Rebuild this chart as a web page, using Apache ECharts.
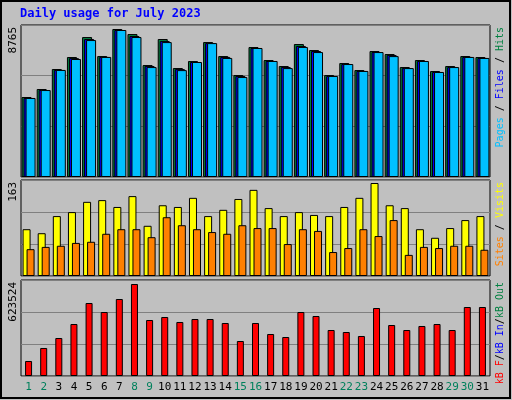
<!DOCTYPE html>
<html><head><meta charset="utf-8">
<script src="https://cdn.jsdelivr.net/npm/echarts@6/dist/echarts.min.js"></script>
<style>html,body{margin:0;padding:0;background:#fff}#c{width:512px;height:400px}</style>
</head><body><div id="c"></div>
<script>
const days = ['1','2','3','4','5','6','7','8','9','10','11','12','13','14','15','16','17','18','19','20','21','22','23','24','25','26','27','28','29','30','31'];
const weekend = [1,2,8,9,15,16,22,23,29,30];
const hits = [4736,5210,6394,7104,8288,7163,8765,8466,6630,8170,6453,6867,7992,7163,6038,7696,6926,6571,7874,7518,6038,6749,6334,7459,7282,6512,6926,6275,6571,7163,7104];
const files = [4680,5150,6340,7040,8170,7110,8705,8350,6570,8050,6390,6810,7930,7110,5980,7640,6870,6510,7760,7460,5980,6690,6280,7400,7220,6450,6870,6220,6510,7110,7050];
const pages = [4680,5150,6340,6990,8110,7110,8705,8290,6510,7990,6330,6810,7930,7050,5920,7640,6870,6450,7700,7400,5980,6690,6280,7400,7160,6450,6870,6220,6510,7110,7050];
const visits = [82,75,105,112,130,133,121,140,88,124,121,137,105,116,135,151,119,105,112,107,105,121,137,163,124,119,82,67,84,98,105];
const sites = [47,51,53,58,60,74,82,82,68,103,89,82,77,74,89,84,84,56,82,79,42,49,82,70,98,37,51,49,53,53,46];
const kbytes = [101700,189800,257500,352400,494700,433700,521800,623524,379500,399800,366000,386300,386300,359200,237200,359200,284600,264300,433700,406600,311700,298200,271100,460800,345600,311700,338900,352400,311700,467600,467600];
const maxLabels = ['8765','163','623524'];

const chart = echarts.init(document.getElementById('c'));
const L=21, W=469;
const grids=[{left:L,top:25,width:W,height:152},{left:L,top:180,width:W,height:96},{left:L,top:280,width:W,height:96}];
const maxes=[8765*152/148,163*96/93,623524*96/92];
const font='DejaVu Sans Mono';
const xAxes=grids.map((g,i)=>({gridIndex:i,type:'category',data:days,axisTick:{show:false},axisLine:{show:false},
  axisLabel:{show:i===2,fontFamily:font,fontSize:11,margin:6,color:(v)=>weekend.includes(+v)?'#00805c':'#000',interval:0}}));
const yAxes=grids.map((g,i)=>({gridIndex:i,type:'value',min:0,max:maxes[i],interval:maxes[i]/3,axisLabel:{show:false},axisLine:{show:false},axisTick:{show:false},
  splitLine:{show:true,lineStyle:{color:'#808080',width:1}}}));
const bs={borderColor:'#000',borderWidth:1};
const r=(c)=>({fill:c,fontFamily:font,fontSize:10});
chart.setOption({
  animation:false,backgroundColor:'#c0c0c0',
  grid:grids.map(g=>Object.assign({show:true,borderColor:'#000',borderWidth:1,backgroundColor:'transparent'},g)),
  xAxis:xAxes,yAxis:yAxes,
  series:[
    {type:'bar',xAxisIndex:0,yAxisIndex:0,data:hits,barWidth:10,barGap:'-80%',itemStyle:Object.assign({color:'#008040'},bs)},
    {type:'bar',xAxisIndex:0,yAxisIndex:0,data:files,barWidth:10,barGap:'-80%',itemStyle:Object.assign({color:'#0000ff'},bs)},
    {type:'bar',xAxisIndex:0,yAxisIndex:0,data:pages,barWidth:10,barGap:'-80%',itemStyle:Object.assign({color:'#00c0ff'},bs)},
    {type:'bar',xAxisIndex:1,yAxisIndex:1,data:visits,barWidth:8,barGap:'-50%',itemStyle:Object.assign({color:'#ffff00'},bs)},
    {type:'bar',xAxisIndex:1,yAxisIndex:1,data:sites,barWidth:8,barGap:'-50%',itemStyle:Object.assign({color:'#ff8000'},bs)},
    {type:'bar',xAxisIndex:2,yAxisIndex:2,data:kbytes,barWidth:7,itemStyle:Object.assign({color:'#ff0000'},bs)}
  ],
  graphic:[
    {type:'rect',shape:{x:1,y:1,width:509,height:397},style:{fill:'none',stroke:'#000',lineWidth:2},silent:true},
    {type:'text',left:20,top:8,style:{text:'Daily usage for July 2023',fill:'#0000ff',font:'bold 12px "DejaVu Sans Mono"'}},
    {type:'text',x:8,y:27,rotation:Math.PI/2,style:{text:maxLabels[0],font:'11px "DejaVu Sans Mono"',fill:'#000',align:'right',verticalAlign:'top'}},
    {type:'text',x:8,y:182,rotation:Math.PI/2,style:{text:maxLabels[1],font:'11px "DejaVu Sans Mono"',fill:'#000',align:'right',verticalAlign:'top'}},
    {type:'text',x:8,y:282,rotation:Math.PI/2,style:{text:maxLabels[2],font:'11px "DejaVu Sans Mono"',fill:'#000',align:'right',verticalAlign:'top'}},
    {type:'text',x:495,y:27,rotation:Math.PI/2,style:{text:'{c|Pages}{k| / }{b|Files}{k| / }{g|Hits}',align:'right',verticalAlign:'top',font:'10px "DejaVu Sans Mono"',
      rich:{c:r('#00c0ff'),k:r('#000'),b:r('#0000ff'),g:r('#008040')}}},
    {type:'text',x:495,y:182,rotation:Math.PI/2,style:{text:'{o|Sites}{k| / }{y|Visits}',align:'right',verticalAlign:'top',font:'10px "DejaVu Sans Mono"',
      rich:{o:r('#ff8000'),k:r('#000'),y:r('#ffff00')}}},
    {type:'text',x:495,y:282,rotation:Math.PI/2,style:{text:'{r|kB F}{k|/}{b|kB In}{k|/}{g|kB Out}',align:'right',verticalAlign:'top',font:'10px "DejaVu Sans Mono"',
      rich:{r:r('#ff0000'),k:r('#000'),b:r('#0000ff'),g:r('#008040')}}}
  ]
});
</script></body></html>
